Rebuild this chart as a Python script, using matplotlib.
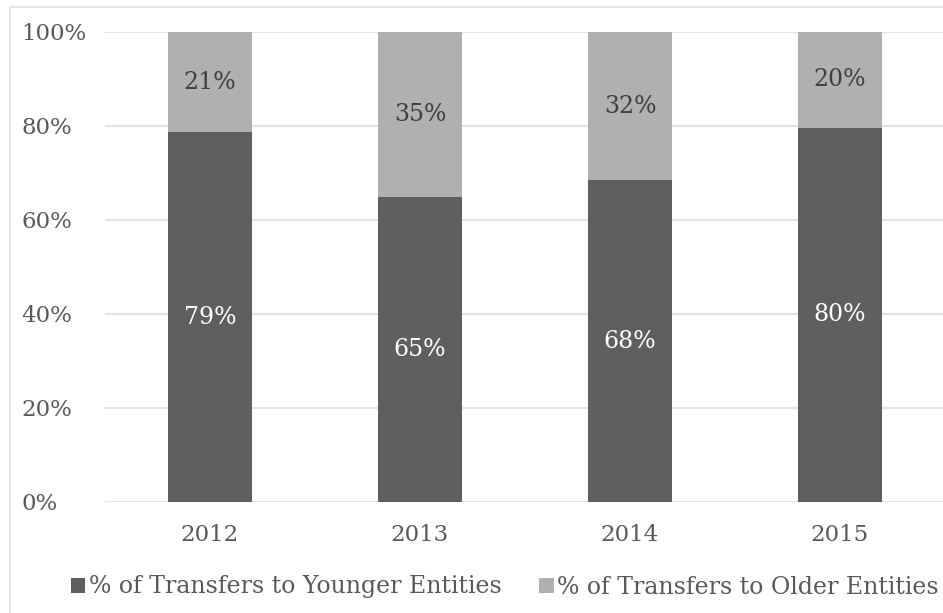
import matplotlib.pyplot as plt
from matplotlib.patches import Rectangle

years = ['2012', '2013', '2014', '2015']
younger = [78.7, 64.9, 68.5, 79.6]
older = [21.3, 35.1, 31.5, 20.4]
younger_labels = ['79%', '65%', '68%', '80%']
older_labels = ['21%', '35%', '32%', '20%']

dark = '#5f5f5d'
light = '#b0b0b0'
txt = '#595959'

plt.rcParams['font.family'] = ['DejaVu Serif']

fig = plt.figure(figsize=(9.43, 6.13), dpi=100)
fig.patches.append(Rectangle((10 / 943, -0.01), 0.999, 606 / 613 + 0.01, transform=fig.transFigure,
                             fill=False, edgecolor='#e0e0e0', lw=1.2))
ax = fig.add_axes([105 / 943, 111 / 613, 840 / 943, 470 / 613])

x = range(len(years))
b1 = ax.bar(x, younger, width=0.4, color=dark, label='% of Transfers to Younger Entities', zorder=3)
b2 = ax.bar(x, older, width=0.4, bottom=younger, color=light,
            label='% of Transfers to Older Entities', zorder=3)

for i in x:
    ax.text(i, younger[i] / 2, younger_labels[i], ha='center', va='center',
            color='white', fontsize=17, zorder=4)
    ax.text(i, younger[i] + older[i] / 2, older_labels[i], ha='center', va='center',
            color='#404040', fontsize=17, zorder=4)

ax.set_xlim(-0.5, 3.5)
ax.set_ylim(0, 100)
ax.set_yticks([0, 20, 40, 60, 80, 100])
ax.set_yticklabels(['0%', '20%', '40%', '60%', '80%', '100%'])
ax.set_xticks(list(x))
ax.set_xticklabels(years)
ax.yaxis.grid(True, color='#e3e3e3', lw=1.5, zorder=0)
for s in ax.spines.values():
    s.set_visible(False)
ax.tick_params(length=0, labelsize=16.5, colors=txt)
ax.tick_params(axis='x', pad=16)
ax.tick_params(axis='y', pad=60)
for lab in ax.get_yticklabels():
    lab.set_horizontalalignment('left')

fig.legend(handles=[b1, b2], loc='center', bbox_to_anchor=(505 / 943, 26 / 613), ncol=2,
           frameon=False, fontsize=17, labelcolor=txt, handlelength=0.6, handleheight=0.6,
           handletextpad=0.15, columnspacing=1.6)

fig.savefig('out.png', dpi=100)
